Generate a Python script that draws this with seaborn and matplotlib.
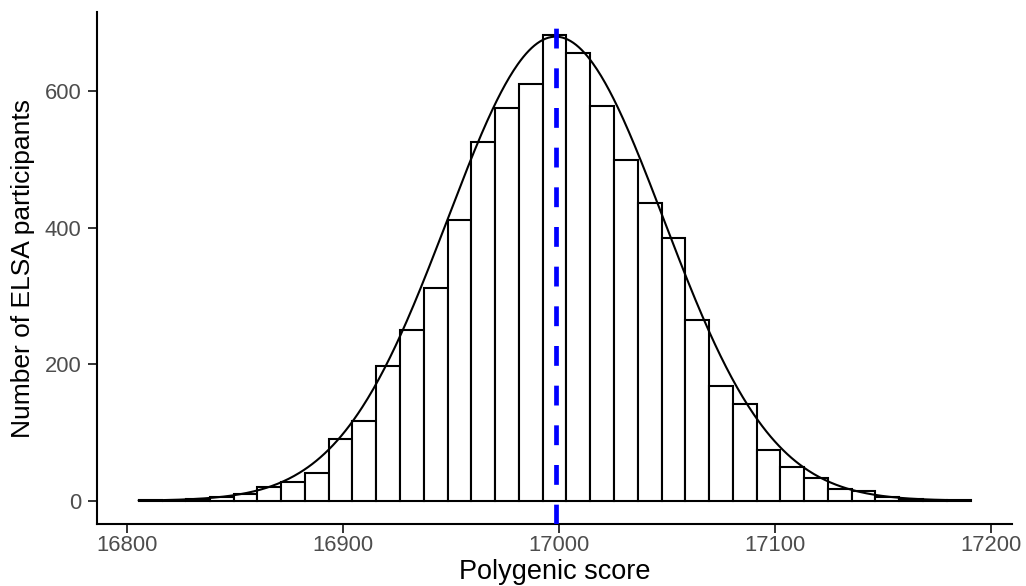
import numpy as np
import pandas as pd
import matplotlib
matplotlib.use("Agg")
import matplotlib.pyplot as plt
import seaborn as sns

# ---- data ----
bin_start = 16805.5          # left edge of the first bin
bin_width = 11.0             # width of each bin
counts = [1, 0, 2, 5, 10, 20, 28, 40, 90, 117,
          198, 250, 312, 411, 525, 576, 611, 682, 656, 578,
          499, 436, 385, 265, 168, 142, 75, 49, 33, 17,
          14, 6, 2, 1, 1]
mean_score = 16998.5         # dashed blue line / curve centre
curve_sd = 50.0              # spread of the fitted normal curve
curve_peak = 680.0           # height of the fitted normal curve
x_ticks = [16800, 16900, 17000, 17100, 17200]
y_ticks = [0, 200, 400, 600]
x_label = "Polygenic score"
y_label = "Number of ELSA participants"

# ---- derived ----
n_bins = len(counts)
bin_end = bin_start + bin_width * n_bins
centers = bin_start + bin_width * (np.arange(n_bins) + 0.5)
df = pd.DataFrame({"score": centers, "n": counts})

xs = np.linspace(bin_start, bin_end, 600)
curve = pd.DataFrame({"x": xs,
                      "y": curve_peak * np.exp(-(xs - mean_score) ** 2 / (2 * curve_sd ** 2))})

sns.set_theme(style="ticks")
plt.rcParams["font.family"] = ["Liberation Sans", "DejaVu Sans"]

fig = plt.figure(figsize=(10.26, 5.86), dpi=100)
ax = fig.add_axes([0.0945, 0.1058, 0.892, 0.8737])

sns.histplot(data=df, x="score", weights="n", binwidth=bin_width,
             binrange=(bin_start, bin_end), ax=ax,
             color="white", edgecolor="black", linewidth=1.5, alpha=1, zorder=2)
sns.lineplot(data=curve, x="x", y="y", ax=ax, color="black", linewidth=1.5, zorder=3)
ax.axvline(mean_score, color="#0000FF", linewidth=3.4, linestyle=(0, (4.2, 4.2)), zorder=4)

data_span = bin_end - bin_start
ax.set_xlim(bin_start - 0.05 * data_span, bin_end + 0.05 * data_span)
top = max(counts)
ax.set_ylim(-0.05 * top, top * 1.05)

ax.set_xticks(x_ticks)
ax.set_yticks(y_ticks)
ax.tick_params(axis="both", length=6.5, width=1.4, color="#333333",
               labelsize=15.8, labelcolor="#4D4D4D")
ax.tick_params(axis="x", pad=1.5)
ax.tick_params(axis="y", pad=4.5)
for s in ["top", "right"]:
    ax.spines[s].set_visible(False)
for s in ["left", "bottom"]:
    ax.spines[s].set_linewidth(1.5)
    ax.spines[s].set_color("black")

ax.set_xlabel(x_label, fontsize=19.5, color="black", labelpad=2)
ax.set_ylabel(y_label, fontsize=19, color="black", labelpad=7)
ax.grid(False)

fig.savefig("out.png", dpi=100)
